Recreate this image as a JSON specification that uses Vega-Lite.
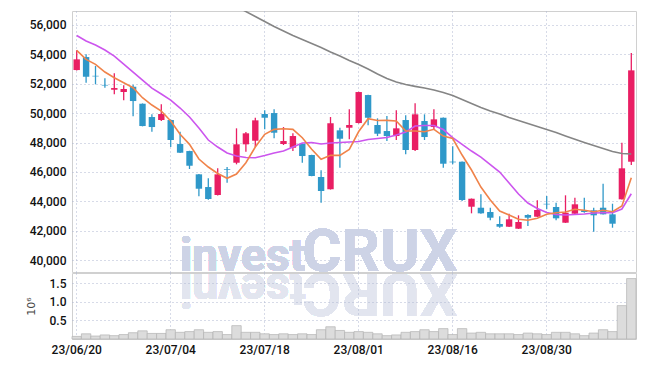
{
  "$schema": "https://vega.github.io/schema/vega-lite/v6.json",
  "padding": {"left": 24, "top": 10, "right": 5, "bottom": 5},
  "spacing": 1,
  "bounds": "flush",
  "background": "white",
  "config": {
    "view": {"stroke": "#d0d0d0", "strokeWidth": 1},
    "axis": {
      "labelFont": "Roboto", "labelFontSize": 12, "labelColor": "#111111", "labelFontWeight": 500,
      "domain": false, "ticks": false, "labelOverlap": false,
      "gridColor": "#aeb6d0", "gridDash": [1, 3], "gridWidth": 1
    }
  },
  "datasets": {
    "k": [
      {"d":"23/06/20","o":52932,"h":54272,"l":52900,"c":53660,"v":70000,"ma5":54272,"ma20":55279},
      {"d":"23/06/21","o":53816,"h":54000,"l":52068,"c":52476,"v":140000,"ma5":53660,"ma20":54905},
      {"d":"23/06/22","o":52540,"h":53204,"l":51959,"c":52500,"v":80000,"ma5":53320,"ma20":54633},
      {"d":"23/06/23","o":51920,"h":52367,"l":51728,"c":51880,"v":110000,"ma5":52796,"ma20":54293},
      {"d":"23/06/26","o":51592,"h":52707,"l":51279,"c":51707,"v":90000,"ma5":52408,"ma20":53884},
      {"d":"23/06/27","o":51435,"h":51891,"l":50871,"c":51640,"v":120000,"ma5":52068,"ma20":53340},
      {"d":"23/06/28","o":51796,"h":51932,"l":49782,"c":50823,"v":170000,"ma5":51728,"ma20":52796},
      {"d":"23/06/29","o":50640,"h":50660,"l":49100,"c":49122,"v":220000,"ma5":51047,"ma20":52252},
      {"d":"23/06/30","o":49735,"h":49918,"l":48735,"c":49054,"v":150000,"ma5":50551,"ma20":51707},
      {"d":"23/07/03","o":49531,"h":50599,"l":49463,"c":49939,"v":150000,"ma5":50143,"ma20":51299},
      {"d":"23/07/04","o":49531,"h":49560,"l":47694,"c":48170,"v":250000,"ma5":49462,"ma20":50891},
      {"d":"23/07/05","o":47898,"h":48735,"l":47280,"c":47306,"v":180000,"ma5":48558,"ma20":50347},
      {"d":"23/07/06","o":47421,"h":47440,"l":46197,"c":46421,"v":200000,"ma5":47877,"ma20":49734},
      {"d":"23/07/07","o":45836,"h":45860,"l":44340,"c":44857,"v":250000,"ma5":46877,"ma20":48986},
      {"d":"23/07/10","o":44972,"h":45564,"l":44100,"c":44156,"v":180000,"ma5":46333,"ma20":48170},
      {"d":"23/07/11","o":44428,"h":46245,"l":44400,"c":45836,"v":200000,"ma5":45891,"ma20":47694},
      {"d":"23/07/12","o":46200,"h":46333,"l":45265,"c":46150,"v":120000,"ma5":45564,"ma20":47285},
      {"d":"23/07/13","o":46625,"h":48966,"l":46517,"c":47878,"v":360000,"ma5":45857,"ma20":47081,"ma60":57252},
      {"d":"23/07/14","o":47878,"h":48714,"l":47374,"c":48626,"v":180000,"ma5":46625,"ma20":46979,"ma60":56912},
      {"d":"23/07/17","o":48122,"h":49687,"l":47694,"c":49510,"v":180000,"ma5":47694,"ma20":46966,"ma60":56572},
      {"d":"23/07/18","o":49939,"h":50190,"l":48898,"c":49687,"v":140000,"ma5":48558,"ma20":47115,"ma60":56232},
      {"d":"23/07/19","o":50006,"h":50258,"l":48286,"c":48667,"v":120000,"ma5":48898,"ma20":47285,"ma60":55891},
      {"d":"23/07/20","o":47898,"h":49054,"l":47830,"c":48102,"v":140000,"ma5":48939,"ma20":47421,"ma60":55585},
      {"d":"23/07/21","o":47646,"h":48626,"l":47422,"c":48442,"v":120000,"ma5":48898,"ma20":47694,"ma60":55279},
      {"d":"23/07/24","o":47918,"h":47940,"l":46625,"c":47081,"v":140000,"ma5":48326,"ma20":47966,"ma60":55007},
      {"d":"23/07/25","o":47150,"h":47170,"l":45700,"c":45721,"v":120000,"ma5":47537,"ma20":48000,"ma60":54735},
      {"d":"23/07/26","o":45653,"h":46109,"l":43904,"c":44700,"v":250000,"ma5":46857,"ma20":47898,"ma60":54463},
      {"d":"23/07/27","o":44816,"h":49735,"l":44800,"c":49306,"v":330000,"ma5":47129,"ma20":47966,"ma60":54156},
      {"d":"23/07/28","o":48830,"h":49007,"l":46285,"c":48258,"v":230000,"ma5":47129,"ma20":48000,"ma60":53884},
      {"d":"23/07/31","o":49007,"h":50258,"l":48218,"c":49191,"v":180000,"ma5":47537,"ma20":48034,"ma60":53578},
      {"d":"23/08/01","o":49326,"h":51450,"l":49300,"c":51435,"v":200000,"ma5":48748,"ma20":48068,"ma60":53306},
      {"d":"23/08/02","o":51231,"h":51250,"l":49170,"c":49687,"v":180000,"ma5":49619,"ma20":48204,"ma60":53000},
      {"d":"23/08/03","o":49191,"h":49646,"l":48442,"c":48599,"v":140000,"ma5":49496,"ma20":48272,"ma60":52660},
      {"d":"23/08/04","o":48782,"h":49803,"l":48102,"c":48442,"v":90000,"ma5":49510,"ma20":48340,"ma60":52354},
      {"d":"23/08/07","o":48442,"h":50190,"l":48170,"c":48966,"v":110000,"ma5":49462,"ma20":48510,"ma60":52116},
      {"d":"23/08/08","o":49531,"h":49850,"l":47197,"c":47490,"v":180000,"ma5":48782,"ma20":48714,"ma60":51946},
      {"d":"23/08/09","o":47490,"h":50667,"l":47422,"c":49918,"v":200000,"ma5":48782,"ma20":49122,"ma60":51823},
      {"d":"23/08/10","o":49463,"h":49918,"l":48170,"c":48374,"v":250000,"ma5":48734,"ma20":49156,"ma60":51707},
      {"d":"23/08/11","o":49054,"h":50258,"l":48898,"c":49578,"v":200000,"ma5":48898,"ma20":49156,"ma60":51571},
      {"d":"23/08/14","o":49687,"h":49700,"l":46285,"c":46558,"v":280000,"ma5":48442,"ma20":48884,"ma60":51401},
      {"d":"23/08/16","o":46700,"h":47741,"l":46517,"c":46650,"v":120000,"ma5":48272,"ma20":48340,"ma60":51197},
      {"d":"23/08/17","o":46694,"h":46710,"l":44020,"c":44088,"v":280000,"ma5":47149,"ma20":47877,"ma60":50925},
      {"d":"23/08/18","o":43632,"h":44190,"l":43183,"c":44176,"v":160000,"ma5":46129,"ma20":47421,"ma60":50653},
      {"d":"23/08/21","o":43564,"h":44476,"l":43160,"c":43183,"v":180000,"ma5":44972,"ma20":47013,"ma60":50381},
      {"d":"23/08/22","o":43272,"h":43564,"l":42707,"c":42884,"v":140000,"ma5":44088,"ma20":46503,"ma60":50143},
      {"d":"23/08/23","o":42455,"h":42979,"l":42204,"c":42272,"v":140000,"ma5":43340,"ma20":45993,"ma60":49939},
      {"d":"23/08/24","o":42272,"h":43156,"l":42250,"c":42775,"v":140000,"ma5":43067,"ma20":45245,"ma60":49700},
      {"d":"23/08/25","o":42136,"h":43047,"l":42120,"c":42592,"v":120000,"ma5":42775,"ma20":44496,"ma60":49496},
      {"d":"23/08/28","o":43067,"h":43115,"l":42319,"c":42884,"v":160000,"ma5":42707,"ma20":43884,"ma60":49292},
      {"d":"23/08/29","o":42952,"h":44068,"l":42940,"c":43408,"v":140000,"ma5":42843,"ma20":43510,"ma60":49088},
      {"d":"23/08/30","o":43830,"h":44360,"l":43456,"c":43790,"v":120000,"ma5":43115,"ma20":43238,"ma60":48884},
      {"d":"23/08/31","o":43612,"h":43904,"l":42707,"c":42843,"v":180000,"ma5":43224,"ma20":43102,"ma60":48680},
      {"d":"23/09/01","o":42544,"h":44408,"l":42530,"c":43224,"v":180000,"ma5":43272,"ma20":43067,"ma60":48442},
      {"d":"23/09/04","o":43156,"h":44244,"l":43140,"c":43796,"v":140000,"ma5":43455,"ma20":43102,"ma60":48218},
      {"d":"23/09/05","o":43387,"h":44244,"l":43224,"c":43272,"v":90000,"ma5":43387,"ma20":43135,"ma60":48000},
      {"d":"23/09/06","o":43387,"h":43564,"l":41925,"c":43047,"v":160000,"ma5":43292,"ma20":43203,"ma60":47796},
      {"d":"23/09/07","o":43564,"h":45197,"l":43100,"c":43115,"v":250000,"ma5":43387,"ma20":43224,"ma60":47592},
      {"d":"23/09/08","o":43115,"h":43836,"l":42204,"c":42476,"v":200000,"ma5":43292,"ma20":43224,"ma60":47388},
      {"d":"23/09/11","o":44136,"h":47986,"l":44120,"c":46245,"v":900000,"ma5":43680,"ma20":43476,"ma60":47251},
      {"d":"23/09/12","o":46694,"h":54088,"l":46469,"c":52911,"v":1630000,"ma5":45605,"ma20":44516,"ma60":47217}
    ]
  },
  "vconcat": [
    {
      "width": 564,
      "height": 261,
      "data": {"name": "k"},
      "encoding": {
        "x": {
          "field": "d", "type": "ordinal",
          "scale": {"paddingInner": 0, "paddingOuter": 0},
          "axis": {
            "values": ["23/06/20","23/07/04","23/07/18","23/08/01","23/08/16","23/08/30"],
            "labels": false, "title": null, "grid": true, "bandPosition": 0.5
          }
        }
      },
      "layer": [
        {
          "mark": {"type": "rule", "strokeWidth": 1.3, "strokeOpacity": 0},
          "encoding": {
            "y": {
              "field": "l", "type": "quantitative",
              "scale": {"domain": [39190, 56950], "nice": false, "zero": false},
              "axis": {
                "values": [40000,42000,44000,46000,48000,50000,52000,54000,56000],
                "tickCount": 10,
                "labelExpr": "format(datum.value, ',')", "title": null, "grid": true, "labelPadding": 6, "labelOverlap": false
              }
            },
            "y2": {"field": "h"}
          }
        },
        {
          "mark": {"type": "text", "text": "invest", "font": "Roboto", "fontWeight": "bold", "fontSize": 46, "align": "left", "baseline": "alphabetic", "color": "#cdd3e6"},
          "encoding": {
            "x": {"datum": "23/07/05", "type": "ordinal"},
            "y": {"datum": 39250, "type": "quantitative"}
          }
        },
        {
          "mark": {"type": "text", "text": "CRUX", "font": "Roboto", "fontWeight": "bold", "fontSize": 60, "align": "left", "baseline": "alphabetic", "color": "#cdd3e6"},
          "encoding": {
            "x": {"datum": "23/07/24", "type": "ordinal"},
            "y": {"datum": 39250, "type": "quantitative"}
          }
        },
        {
          "mark": {"type": "text", "text": "tsevni", "font": "Roboto", "fontWeight": "bold", "fontSize": 46, "align": "right", "baseline": "alphabetic", "angle": 180, "color": "#e2e5ef"},
          "encoding": {
            "x": {"datum": "23/07/05", "type": "ordinal"},
            "y": {"datum": 39020, "type": "quantitative"}
          }
        },
        {
          "mark": {"type": "text", "text": "XURC", "font": "Roboto", "fontWeight": "bold", "fontSize": 60, "align": "right", "baseline": "alphabetic", "angle": 180, "color": "#e2e5ef"},
          "encoding": {
            "x": {"datum": "23/07/24", "type": "ordinal"},
            "y": {"datum": 39020, "type": "quantitative"}
          }
        },
        {
          "mark": {"type": "rule", "strokeWidth": 1.3},
          "encoding": {
            "y": {"field": "l", "type": "quantitative"},
            "y2": {"field": "h"},
            "color": {"condition": {"test": "datum.c >= datum.o", "value": "#e91e63"}, "value": "#2f98c9"}
          }
        },
        {
          "mark": {"type": "bar", "width": {"band": 0.68}},
          "encoding": {
            "y": {"field": "o", "type": "quantitative"},
            "y2": {"field": "c"},
            "color": {"condition": {"test": "datum.c >= datum.o", "value": "#e91e63"}, "value": "#2f98c9"}
          }
        },
        {
          "mark": {"type": "line", "color": "#858585", "strokeWidth": 1.6, "clip": true},
          "encoding": {
            "y": {"field": "ma60", "type": "quantitative"}
          }
        },
        {
          "mark": {"type": "line", "color": "#cc55ee", "strokeWidth": 1.6},
          "encoding": {
            "y": {"field": "ma20", "type": "quantitative"}
          }
        },
        {
          "mark": {"type": "line", "color": "#f0834a", "strokeWidth": 1.6},
          "encoding": {
            "y": {"field": "ma5", "type": "quantitative"}
          }
        }
      ]
    },
    {
      "width": 564,
      "height": 66,
      "data": {"name": "k"},
      "mark": {"type": "bar", "fill": "#dcdcdc", "stroke": "#b3b3b3", "strokeWidth": 0.7},
      "encoding": {
        "x": {
          "field": "d", "type": "ordinal",
          "scale": {"paddingInner": 0, "paddingOuter": 0},
          "axis": {
            "values": ["23/06/20","23/07/04","23/07/18","23/08/01","23/08/16","23/08/30"],
            "title": null, "grid": true, "bandPosition": 0.5, "labelAngle": 0, "labelPadding": 5
          }
        },
        "y": {
          "field": "v", "type": "quantitative",
          "scale": {"domain": [0, 1780000], "nice": false},
          "axis": {
            "values": [500000, 1000000, 1500000],
            "labelExpr": "format(datum.value / 1000000, '.1f')",
            "title": "10⁶", "titleFont": "DejaVu Sans", "titleFontSize": 11, "titleFontWeight": "normal", "titleColor": "#444444",
            "titlePadding": 13, "grid": true, "labelPadding": 6
          }
        }
      }
    }
  ]
}
